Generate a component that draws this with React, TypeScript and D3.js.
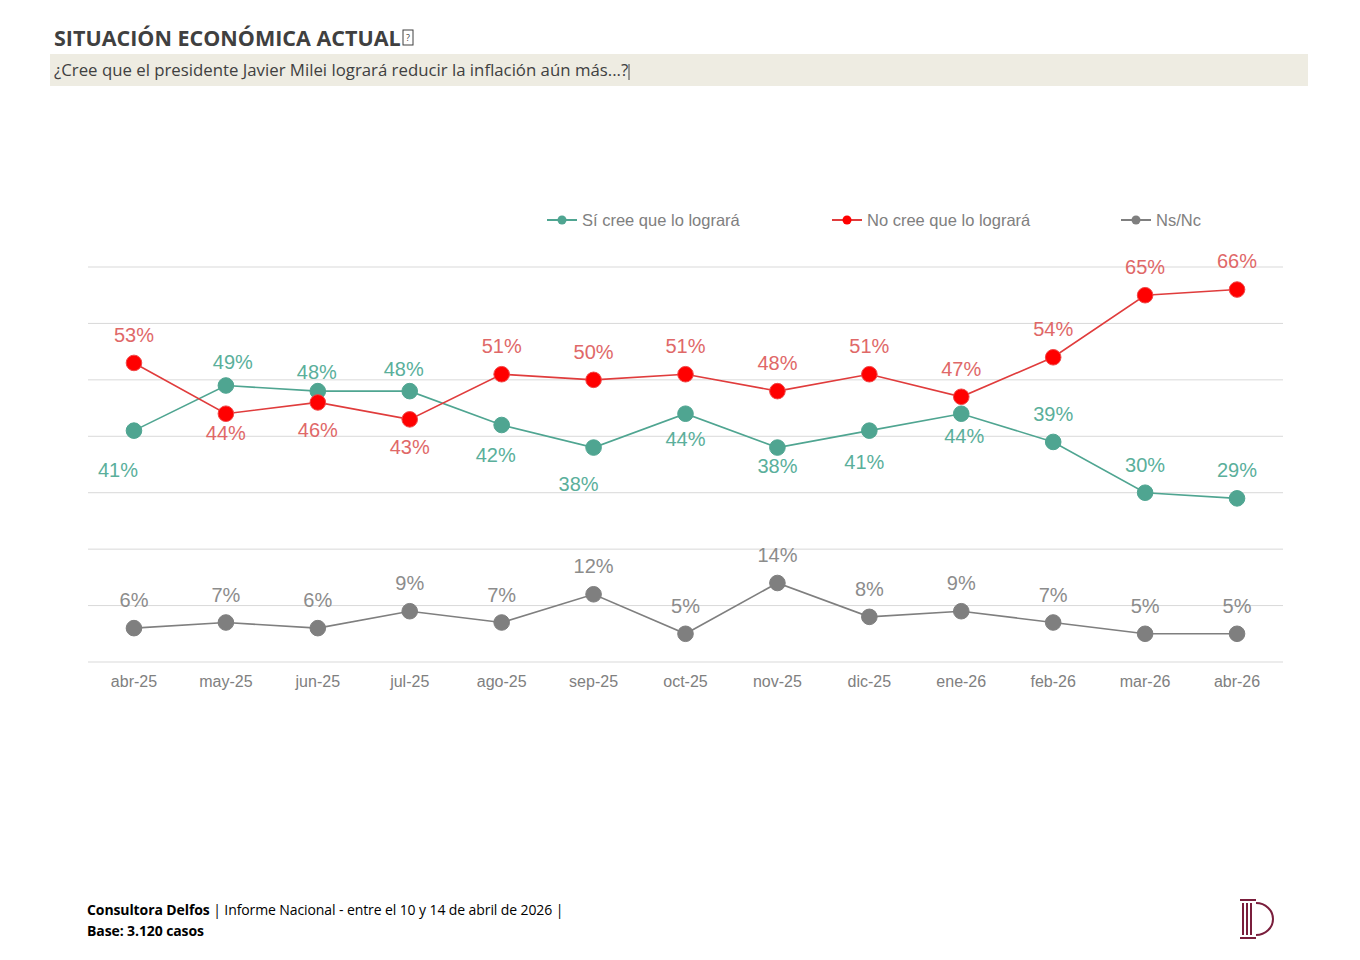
import React from "react";
import * as d3 from "d3";

const months = ["abr-25","may-25","jun-25","jul-25","ago-25","sep-25","oct-25","nov-25","dic-25","ene-26","feb-26","mar-26","abr-26"];
const siCree = [41,49,48,48,42,38,44,38,41,44,39,30,29];
const noCree = [53,44,46,43,51,50,51,48,51,47,54,65,66];
const nsNc = [6,7,6,9,7,12,5,14,8,9,7,5,5];
const yTicks = [0,10,20,30,40,50,60,70];
const seriesNames = ["Sí cree que lo logrará","No cree que lo logrará","Ns/Nc"];

// label placement (style): [dx, dy] relative to point
const siOffsets: [number, number][] = [[-16,39],[7,-24],[-1,-19],[-6,-22],[-6,30],[-15,36],[0,25],[0,18],[-5,31],[3,22],[0,-28],[0,-28],[0,-28]];
const noOffsets: [number, number][] = [[0,-28],[0,19],[0,28],[0,28],[0,-28],[0,-28],[0,-28],[0,-28],[0,-28],[0,-28],[0,-28],[0,-28],[0,-29]];
const nsOffsets: [number, number][] = months.map(() => [0,-28]);

const W = 1360, H = 960;
const left = 88, right = 1283, top = 267, bottom = 662;
const LAB_FONT = "'Liberation Sans', Arial, Helvetica, sans-serif";

export default function App() {
  const x = d3.scaleBand<string>().domain(months).range([left, right]);
  const cx = (m: string) => (x(m) as number) + x.bandwidth() / 2;
  const y = d3.scaleLinear().domain([0, 70]).range([bottom, top]);
  const line = d3.line<number>().x((_, i) => cx(months[i])).y(d => y(d));

  const series = [
    { name: seriesNames[0], data: siCree, line: "#4FA591", dot: "#4FA591", dotStroke: "#4FA591", label: "#5AAF9B", offs: siOffsets, legendX: 547 },
    { name: seriesNames[1], data: noCree, line: "#E03C3C", dot: "#FF0000", dotStroke: "#F04848", label: "#E06868", offs: noOffsets, legendX: 832 },
    { name: seriesNames[2], data: nsNc, line: "#7F7F7F", dot: "#7F7F7F", dotStroke: "#7F7F7F", label: "#8C8C8C", offs: nsOffsets, legendX: 1121 },
  ];

  return (
    <svg width={W} height={H} style={{ position: "absolute", left: 0, top: 0, background: "#fff" }}>
      <rect width={W} height={H} fill="#fff" />
      <text x={54} y={46} fontFamily="'Open Sans', sans-serif" fontWeight={700} fontSize={21.5} fill="#404040" letterSpacing={0}>SITUACIÓN ECONÓMICA ACTUAL</text>
      <rect x={403} y={30} width={10} height={15} fill="none" stroke="#404040" strokeWidth={1} />
      <text x={408} y={41} textAnchor="middle" fontFamily="'Open Sans', sans-serif" fontSize={9} fill="#404040">?</text>
      <rect x={50} y={54} width={1258} height={32} fill="#EEECE2" />
      <text x={54} y={76} fontFamily="'Open Sans', sans-serif" fontSize={16.8} fill="#404040" letterSpacing={0}>¿Cree que el presidente Javier Milei logrará reducir la inflación aún más...?</text>
      <line x1={629} x2={629} y1={64} y2={80} stroke="#404040" strokeWidth={1} />

      {yTicks.map(t => (
        <line key={t} x1={left} x2={right} y1={y(t)} y2={y(t)} stroke="#D9D9D9" strokeWidth={1} />
      ))}
      {months.map(m => (
        <text key={m} x={cx(m)} y={687} textAnchor="middle" fontFamily={LAB_FONT} fontSize={16} fill="#808080">{m}</text>
      ))}

      {series.map(s => (
        <g key={s.name}>
          <path d={line(s.data) || ""} fill="none" stroke={s.line} strokeWidth={1.6} />
          {s.data.map((v, i) => (
            <circle key={i} cx={cx(months[i])} cy={y(v)} r={7.8} fill={s.dot} stroke={s.dotStroke} strokeWidth={1} />
          ))}
          {s.data.map((v, i) => (
            <text key={"l" + i} x={cx(months[i]) + s.offs[i][0]} y={y(v) + s.offs[i][1]} dy="0.35em" textAnchor="middle"
              fontFamily={LAB_FONT} fontSize={20} fill={s.label}>{v}%</text>
          ))}
          <line x1={s.legendX} x2={s.legendX + 30} y1={220} y2={220} stroke={s.line} strokeWidth={2} />
          <circle cx={s.legendX + 15} cy={220} r={4.5} fill={s.dot} />
          <text x={s.legendX + 35} y={220} dy="0.35em" fontFamily={LAB_FONT} fontSize={16.5} fill="#808080">{s.name}</text>
        </g>
      ))}

      <text x={87} y={915} fontFamily="'Open Sans', sans-serif" fontSize={14} fill="#000" letterSpacing={-0.1}>
        <tspan fontWeight={700}>Consultora Delfos</tspan>
        <tspan> | Informe Nacional - entre el 10 y 14 de abril de 2026 |</tspan>
      </text>
      <text x={87} y={936} fontFamily="'Open Sans', sans-serif" fontSize={14} fontWeight={700} fill="#000" letterSpacing={-0.1}>Base: 3.120 casos</text>

      <g stroke="#7A1E3C" fill="none" strokeWidth={2}>
        <line x1={1240} x2={1256} y1={900} y2={900} />
        <line x1={1240} x2={1256} y1={938} y2={938} />
        <line x1={1243} x2={1243} y1={903} y2={935} />
        <line x1={1247} x2={1247} y1={903} y2={935} />
        <line x1={1251} x2={1251} y1={903} y2={935} />
        <path d="M1256,903 A17,16 0 0 1 1256,935" />
      </g>
    </svg>
  );
}
